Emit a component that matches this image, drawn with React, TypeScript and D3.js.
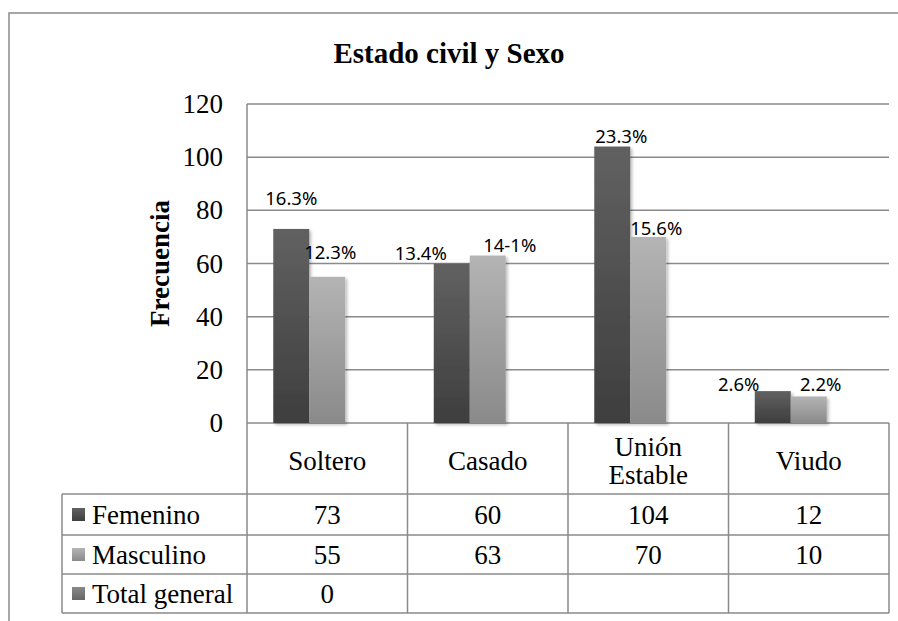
import React from 'react';
import * as d3 from 'd3';

const categories = ['Soltero', 'Casado', 'Unión Estable', 'Viudo'];
const seriesNames = ['Femenino', 'Masculino', 'Total general'];
const femenino = [73, 60, 104, 12];
const masculino = [55, 63, 70, 10];
const totalGeneral: (number | null)[] = [0, null, null, null];
const femeninoPct = ['16.3%', '13.4%', '23.3%', '2.6%'];
const masculinoPct = ['12.3%', '14-1%', '15.6%', '2.2%'];
const yTicks = [0, 20, 40, 60, 80, 100, 120];

// hand nudges of the data labels (dx, dy from bar top centre), as placed in the original
const femNudge = [[0, -31], [-31, -11], [9, -11], [-34, -8]];
const mascNudge = [[3, -25], [22, -11], [8, -9], [12, -13]];

const W = 898, H = 621;
const margin = { left: 247, right: 889, top: 104, bottom: 423 };
const rowLines = [494, 535, 574, 613];
const legendLeft = 62;
const serif = '"Liberation Serif", "Times New Roman", serif';
const sans = '"Noto Sans", "Open Sans", sans-serif';
const gridColor = '#8a8a8a';
const fills = ['url(#gFem)', 'url(#gMasc)', 'url(#gTot)'];

const App = () => {
    const x = d3.scaleBand().domain(categories).range([margin.left, margin.right]).padding(0);
    const inner = d3.scaleBand().domain(seriesNames).range([0, x.bandwidth()]).paddingInner(0).paddingOuter(0.73);
    const y = d3.scaleLinear().domain([0, 120]).range([margin.bottom, margin.top]);

    const series = [femenino, masculino, totalGeneral];
    const colEdges = categories.map(c => x(c) as number).concat([margin.right]);

    return (
        <svg width={W} height={H} style={{ position: 'absolute', left: 0, top: 0, background: '#fff' }}>
            <defs>
                <linearGradient id="gFem" x1="0" y1="0" x2="0" y2="1">
                    <stop offset="0" stopColor="#616161" />
                    <stop offset="1" stopColor="#3e3e3e" />
                </linearGradient>
                <linearGradient id="gMasc" x1="0" y1="0" x2="0" y2="1">
                    <stop offset="0" stopColor="#b4b4b4" />
                    <stop offset="1" stopColor="#8a8a8a" />
                </linearGradient>
                <linearGradient id="gTot" x1="0" y1="0" x2="0" y2="1">
                    <stop offset="0" stopColor="#888888" />
                    <stop offset="1" stopColor="#666666" />
                </linearGradient>
                <filter id="shadow" x="-20%" y="-20%" width="140%" height="140%">
                    <feDropShadow dx="2" dy="2" stdDeviation="1.5" floodColor="#000" floodOpacity="0.25" />
                </filter>
            </defs>

            {/* outer frame */}
            <rect x={9} y={13} width={1000} height={800} fill="none" stroke={gridColor} strokeWidth={1.5} />

            {/* title */}
            <text x={449} y={63} textAnchor="middle" fontFamily={serif} fontWeight="bold" fontSize={29}>Estado civil y Sexo</text>

            {/* gridlines */}
            {yTicks.map(t => (
                <line key={t} x1={margin.left} x2={margin.right} y1={y(t)} y2={y(t)} stroke={gridColor} strokeWidth={1.5} />
            ))}
            {yTicks.map(t => (
                <text key={'l' + t} x={223} y={y(t)} textAnchor="end" dominantBaseline="central" fontFamily={serif} fontSize={27}>{t}</text>
            ))}
            <text transform={`translate(160,${(margin.top + margin.bottom) / 2}) rotate(-90)`} textAnchor="middle" dominantBaseline="central"
                fontFamily={serif} fontWeight="bold" fontSize={27}>Frecuencia</text>

            {/* bars */}
            {series.map((vals, si) => vals.map((v, ci) => v == null ? null : (
                <rect key={si + '-' + ci}
                    x={(x(categories[ci]) as number) + (inner(seriesNames[si]) as number)}
                    y={y(v)} width={inner.bandwidth()} height={y(0) - y(v)}
                    fill={fills[si]} filter="url(#shadow)" />
            )))}

            {/* data labels */}
            {femenino.map((v, ci) => (
                <text key={'fl' + ci}
                    x={(x(categories[ci]) as number) + (inner('Femenino') as number) + inner.bandwidth() / 2 + femNudge[ci][0]}
                    y={y(v) + femNudge[ci][1]} textAnchor="middle" dominantBaseline="central" fontFamily={sans} fontSize={18.5}>{femeninoPct[ci]}</text>
            ))}
            {masculino.map((v, ci) => (
                <text key={'ml' + ci}
                    x={(x(categories[ci]) as number) + (inner('Masculino') as number) + inner.bandwidth() / 2 + mascNudge[ci][0]}
                    y={y(v) + mascNudge[ci][1]} textAnchor="middle" dominantBaseline="central" fontFamily={sans} fontSize={18.5}>{masculinoPct[ci]}</text>
            ))}

            {/* data table */}
            <line x1={margin.left} x2={margin.left} y1={margin.top} y2={rowLines[3]} stroke={gridColor} strokeWidth={1.5} />
            {colEdges.slice(1).map((cx, i) => (
                <line key={'v' + i} x1={cx} x2={cx} y1={margin.bottom} y2={rowLines[3]} stroke={gridColor} strokeWidth={1.5} />
            ))}
            <line x1={legendLeft} x2={legendLeft} y1={rowLines[0]} y2={rowLines[3]} stroke={gridColor} strokeWidth={1.5} />
            {rowLines.map((ry, i) => (
                <line key={'h' + i} x1={legendLeft} x2={margin.right} y1={ry} y2={ry} stroke={gridColor} strokeWidth={1.5} />
            ))}

            {categories.map(c => {
                const cx = (x(c) as number) + x.bandwidth() / 2;
                const words = c === 'Unión Estable' ? ['Unión', 'Estable'] : [c];
                const mid = (margin.bottom + rowLines[0]) / 2 + 2;
                return words.map((w, i) => (
                    <text key={c + i} x={cx} y={mid + (i - (words.length - 1) / 2) * 28} textAnchor="middle" dominantBaseline="central"
                        fontFamily={serif} fontSize={27}>{w}</text>
                ));
            })}

            {seriesNames.map((s, si) => {
                const top = rowLines[si];
                const bottom = rowLines[si + 1];
                const mid = (top + bottom) / 2;
                return (
                    <g key={s}>
                        <rect x={72} y={mid - 6.5} width={13} height={13} fill={fills[si]} />
                        <text x={92} y={mid} dominantBaseline="central" fontFamily={serif} fontSize={27}>{s}</text>
                        {series[si].map((v, ci) => v == null ? null : (
                            <text key={ci} x={(x(categories[ci]) as number) + x.bandwidth() / 2} y={mid} textAnchor="middle"
                                dominantBaseline="central" fontFamily={serif} fontSize={27}>{v}</text>
                        ))}
                    </g>
                );
            })}
        </svg>
    );
};

export default App;
